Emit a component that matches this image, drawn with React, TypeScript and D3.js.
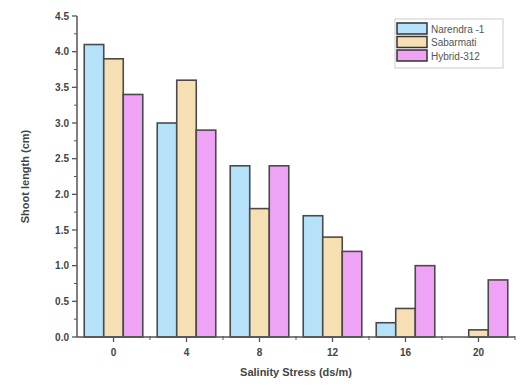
import React from "react";
import * as d3 from "d3";

const categories = ["0", "4", "8", "12", "16", "20"];
const seriesNames = ["Narendra -1", "Sabarmati", "Hybrid-312"];
const narendra = [4.1, 3.0, 2.4, 1.7, 0.2, 0.0];
const sabarmati = [3.9, 3.6, 1.8, 1.4, 0.4, 0.1];
const hybrid = [3.4, 2.9, 2.4, 1.2, 1.0, 0.8];
const yTicks = [0, 0.5, 1, 1.5, 2, 2.5, 3, 3.5, 4, 4.5];
const colors = ["#b5e2f8", "#f6e0b3", "#efa3f6"];

const width = 530;
const height = 390;
const margin = { top: 16, right: 15, bottom: 53, left: 77 };

export default function App() {
  const series = [narendra, sabarmati, hybrid];
  const x = d3
    .scaleBand()
    .domain(categories)
    .range([margin.left, width - margin.right])
    .paddingInner(0)
    .paddingOuter(0);
  const inner = d3
    .scaleBand()
    .domain(seriesNames)
    .range([0, x.bandwidth()])
    .paddingInner(0)
    .paddingOuter(0.37);
  const y = d3
    .scaleLinear()
    .domain([0, 4.5])
    .range([height - margin.bottom, margin.top]);

  const minorY = d3.range(0, 4.5, 0.25).filter(v => Math.abs(v * 2 - Math.round(v * 2)) > 0.01);
  const axisColor = "#555";
  const textColor = "#444";
  const y0 = y(0);

  return (
    <svg width={width} height={height} style={{ position: "absolute", left: 0, top: 0 }}>
      <rect width={width} height={height} fill="#fff" />
      {categories.map((c, i) => (
        <g key={c} transform={`translate(${x(c)},0)`}>
          {series.map((s, j) => (
            <rect
              key={j}
              x={inner(seriesNames[j])}
              y={y(s[i])}
              width={inner.bandwidth()}
              height={y0 - y(s[i])}
              fill={colors[j]}
              stroke="#4a4a4a"
              strokeWidth={1.6}
            />
          ))}
        </g>
      ))}

      {/* y axis */}
      <line x1={margin.left} x2={margin.left} y1={y(4.5)} y2={y0} stroke={axisColor} strokeWidth={1.5} />
      {yTicks.map(t => (
        <g key={t}>
          <line x1={margin.left - 5} x2={margin.left} y1={y(t)} y2={y(t)} stroke={axisColor} strokeWidth={1.3} />
          <text
            x={margin.left - 8}
            y={y(t)}
            dy="0.35em"
            textAnchor="end"
            fontFamily="Liberation Sans, Arial, sans-serif"
            fontWeight="bold"
            fontSize={10}
            fill={textColor}
          >
            {t.toFixed(1)}
          </text>
        </g>
      ))}
      {minorY.map(t => (
        <line key={t} x1={margin.left - 3} x2={margin.left} y1={y(t)} y2={y(t)} stroke={axisColor} strokeWidth={1} />
      ))}

      {/* x axis */}
      <line x1={margin.left} x2={width - margin.right} y1={y0} y2={y0} stroke={axisColor} strokeWidth={1.5} />
      {categories.map(c => {
        const cx = (x(c) ?? 0) + x.bandwidth() / 2;
        return (
          <g key={c}>
            <line x1={cx} x2={cx} y1={y0} y2={y0 + 5} stroke={axisColor} strokeWidth={1.3} />
            <text
              x={cx}
              y={y0 + 19}
              textAnchor="middle"
              fontFamily="Liberation Sans, Arial, sans-serif"
              fontWeight="bold"
              fontSize={10}
              fill={textColor}
            >
              {c}
            </text>
          </g>
        );
      })}
      {categories.map(c => {
        const ex = (x(c) ?? 0) + x.bandwidth();
        return <line key={"m" + c} x1={ex} x2={ex} y1={y0 - 1} y2={y0 + 3} stroke={axisColor} strokeWidth={1} />;
      })}

      <text
        x={(margin.left + width - margin.right) / 2}
        y={y0 + 39}
        textAnchor="middle"
        fontFamily="Liberation Sans, Arial, sans-serif"
        fontWeight="bold"
        fontSize={11}
        fill={textColor}
      >
        Salinity Stress (ds/m)
      </text>
      <text
        transform={`translate(29,${(y(4.5) + y0) / 2}) rotate(-90)`}
        textAnchor="middle"
        fontFamily="Liberation Sans, Arial, sans-serif"
        fontWeight="bold"
        fontSize={11}
        fill={textColor}
      >
        Shoot length (cm)
      </text>

      {/* legend */}
      <g transform="translate(395,19)">
        <rect width={108} height={49} fill="#fff" stroke="#ccc" strokeWidth={1} />
        {seriesNames.map((n, j) => (
          <g key={n} transform={`translate(2,${4 + j * 13.5})`}>
            <rect width={30} height={11} fill={colors[j]} stroke="#333" strokeWidth={1.5} />
            <text
              x={34}
              y={6}
              dy="0.35em"
              fontFamily="Liberation Sans, Arial, sans-serif"
              fontSize={10}
              fill="#555"
            >
              {n}
            </text>
          </g>
        ))}
      </g>
    </svg>
  );
}
